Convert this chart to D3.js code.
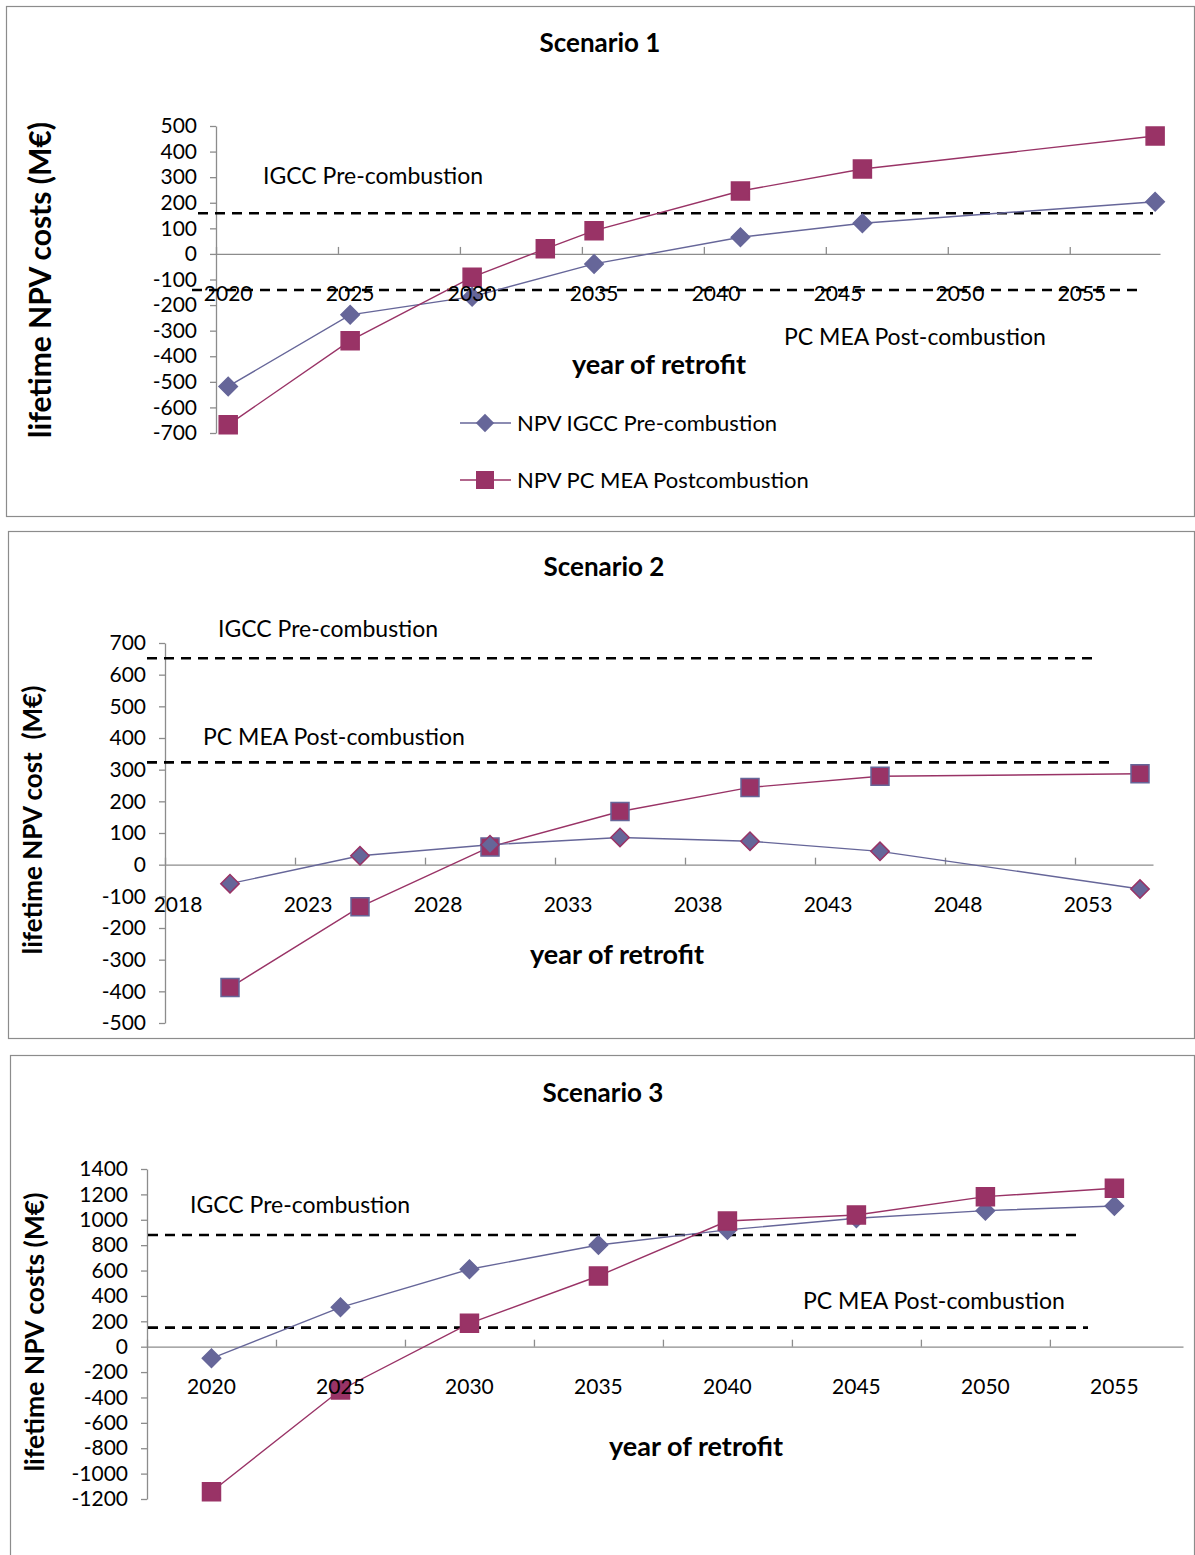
<!DOCTYPE html>
<html>
<head>
<meta charset="utf-8">
<script src="https://cdn.jsdelivr.net/npm/d3@7"></script>
<style>
  body { margin: 0; background: #fff; }
  text { font-family: Lato, "Open Sans", sans-serif; fill: #000; }
</style>
</head>
<body>
<script>
// Scenario 1
const s1IgccYears = [2020, 2025, 2030, 2035, 2041, 2046, 2058];
const s1IgccNpv = [-518, -238, -167, -39, 65, 120, 204];
const s1PcYears = [2020, 2025, 2030, 2033, 2035, 2041, 2046, 2058];
const s1PcNpv = [-668, -339, -91, 20, 91, 246, 332, 461];
const s1RefLines = [159, -141]; // IGCC, PC MEA
const s1YTicks = [500, 400, 300, 200, 100, 0, -100, -200, -300, -400, -500, -600, -700];
const s1XLabels = [2020, 2025, 2030, 2035, 2040, 2045, 2050, 2055];

// Scenario 2
const s2Years = [2020, 2025, 2030, 2035, 2040, 2045, 2055];
const s2IgccNpv = [-60, 28, 63, 86, 74, 42, -77];
const s2PcNpv = [-388, -133, 56, 168, 244, 279, 287];
const s2RefLines = [652, 323];
const s2YTicks = [700, 600, 500, 400, 300, 200, 100, 0, -100, -200, -300, -400, -500];
const s2XLabels = [2018, 2023, 2028, 2033, 2038, 2043, 2048, 2053];

// Scenario 3
const s3Years = [2020, 2025, 2030, 2035, 2040, 2045, 2050, 2055];
const s3IgccNpv = [-92, 310, 610, 801, 920, 1012, 1072, 1109];
const s3PcNpv = [-1143, -341, 184, 557, 990, 1038, 1182, 1248];
const s3RefLines = [880, 150];
const s3YTicks = [1400, 1200, 1000, 800, 600, 400, 200, 0, -200, -400, -600, -800, -1000, -1200];
const s3XLabels = [2020, 2025, 2030, 2035, 2040, 2045, 2050, 2055];

const IGCC_COLOR = "#666699";
const PC_COLOR = "#993366";
const REF_NAMES = ["IGCC Pre-combustion", "PC MEA Post-combustion"];

const svg = d3.select("body").append("svg").attr("width", 1195).attr("height", 1555);

const zip = (xs, ys) => xs.map((d, i) => [d, ys[i]]);

// layout of each panel
const PANELS = [
  {
    frame: [6, 6, 1194, 516],
    title: "Scenario 1", titleAt: [600, 52],
    yLabel: "lifetime NPV costs (M€)", yLabelAt: [40, 280], yLabelSize: 30,
    xDomain: [2019.5, 2058.2], xRange: [216, 1160], tickShift: -0.5,
    yTicks: s1YTicks, yRange: [433, 126], xLabels: s1XLabels,
    igcc: zip(s1IgccYears, s1IgccNpv), pc: zip(s1PcYears, s1PcNpv),
    refs: s1RefLines, refX: [[198, 1153], [192, 1138]],
    notesAt: [[263, 184], [784, 345]],
    xTitleAt: [659, 374],
    legend: true, outlined: false, igccOnTop: false,
  },
  {
    frame: [8, 531, 1194, 1038],
    title: "Scenario 2", titleAt: [604, 576],
    yLabel: "lifetime NPV cost  (M€)", yLabelAt: [33, 820], yLabelSize: 26,
    xDomain: [2017.5, 2055.5], xRange: [165, 1153], tickShift: -0.5,
    yTicks: s2YTicks, yRange: [1023, 643], xLabels: s2XLabels,
    igcc: zip(s2Years, s2IgccNpv), pc: zip(s2Years, s2PcNpv),
    refs: s2RefLines, refX: [[147, 1093], [147, 1110]],
    notesAt: [[218, 637], [203, 745]],
    xTitleAt: [617, 964],
    legend: false, outlined: true, igccOnTop: true,
  },
  {
    frame: [10, 1055, 1194, 1570],
    title: "Scenario 3", titleAt: [603, 1102],
    yLabel: "lifetime NPV costs (M€)", yLabelAt: [35, 1332], yLabelSize: 26.5,
    xDomain: [2017.5, 2057.66], xRange: [147, 1183], tickShift: -2.5,
    yTicks: s3YTicks, yRange: [1499, 1169], xLabels: s3XLabels,
    igcc: zip(s3Years, s3IgccNpv), pc: zip(s3Years, s3PcNpv),
    refs: s3RefLines, refX: [[148, 1083], [148, 1088]],
    notesAt: [[190, 1213], [803, 1309]],
    xTitleAt: [696, 1456],
    legend: false, outlined: false, igccOnTop: false,
  },
];

const squareSym = d3.symbol().type(d3.symbolSquare).size(324)();
const diamondSym = d3.symbol().type(d3.symbolSquare).size(169)();

function drawMarkers(g, pts, kind, x, y, stroke) {
  g.selectAll(null).data(pts).enter().append("path")
    .attr("d", kind === "square" ? squareSym : diamondSym)
    .attr("transform", (d) => `translate(${x(d[0])},${y(d[1])})` + (kind === "square" ? "" : " rotate(45)"))
    .attr("fill", kind === "square" ? PC_COLOR : IGCC_COLOR)
    .attr("stroke", stroke)
    .attr("stroke-width", 1.5);
}

function drawPanel(p) {
  const g = svg.append("g");
  const [fx1, fy1, fx2, fy2] = p.frame;
  g.append("rect").attr("x", fx1 + 0.5).attr("y", fy1 + 0.5)
    .attr("width", fx2 - fx1).attr("height", fy2 - fy1)
    .attr("fill", "none").attr("stroke", "#8c8c8c").attr("stroke-width", 1.2);

  const x = d3.scaleLinear().domain(p.xDomain).range(p.xRange);
  const y = d3.scaleLinear().domain(d3.extent(p.yTicks)).range(p.yRange);

  // title and axis titles
  g.append("text").attr("x", p.titleAt[0]).attr("y", p.titleAt[1])
    .attr("text-anchor", "middle").style("font-weight", "bold").style("font-size", "26px")
    .text(p.title);
  g.append("text")
    .attr("transform", `translate(${p.yLabelAt[0]},${p.yLabelAt[1]}) rotate(-90)`)
    .attr("text-anchor", "middle").attr("dy", "0.35em")
    .style("font-weight", "bold").style("font-size", p.yLabelSize + "px").style("white-space", "pre")
    .text(p.yLabel);
  g.append("text").attr("x", p.xTitleAt[0]).attr("y", p.xTitleAt[1])
    .attr("text-anchor", "middle").style("font-weight", "bold").style("font-size", "27px")
    .text("year of retrofit");

  // y axis
  const yAxis = g.append("g").attr("transform", `translate(${p.xRange[0]},0)`)
    .call(d3.axisLeft(y).tickValues(p.yTicks).tickSize(6).tickSizeOuter(0).tickPadding(13)
      .tickFormat((d) => String(d)));
  // x axis at zero, ticks pointing up
  const xAxis = g.append("g").attr("transform", `translate(0,${y(0)})`)
    .call(d3.axisTop(x).tickValues(p.xLabels.map((d) => d + p.tickShift)).tickSize(7)
      .tickSizeOuter(0).tickFormat(""));
  [yAxis, xAxis].forEach((a) => {
    a.selectAll("path, line").attr("stroke", "#8c8c8c").attr("stroke-width", 1.3);
    a.selectAll("text").style("font-size", "21px").style("font-family", "Lato, sans-serif").attr("fill", "#000");
  });

  // reference (dashed) levels
  g.selectAll(null).data(p.refs).enter().append("line")
    .attr("x1", (d, i) => p.refX[i][0]).attr("x2", (d, i) => p.refX[i][1])
    .attr("y1", (d) => y(d)).attr("y2", (d) => y(d))
    .attr("stroke", "#000").attr("stroke-width", 2.6).attr("stroke-dasharray", "10,7");

  g.selectAll(null).data(REF_NAMES).enter().append("text")
    .attr("x", (d, i) => p.notesAt[i][0]).attr("y", (d, i) => p.notesAt[i][1])
    .style("font-size", "23px").text((d) => d);

  // series
  const line = d3.line().x((d) => x(d[0])).y((d) => y(d[1]));
  const drawIgcc = () => {
    g.append("path").datum(p.igcc).attr("d", line).attr("fill", "none")
      .attr("stroke", IGCC_COLOR).attr("stroke-width", 1.4);
    drawMarkers(g, p.igcc, "diamond", x, y, p.outlined ? PC_COLOR : IGCC_COLOR);
  };
  const drawPc = () => {
    g.append("path").datum(p.pc).attr("d", line).attr("fill", "none")
      .attr("stroke", PC_COLOR).attr("stroke-width", 1.4);
    drawMarkers(g, p.pc, "square", x, y, p.outlined ? IGCC_COLOR : PC_COLOR);
  };
  if (p.igccOnTop) { drawPc(); drawIgcc(); } else { drawIgcc(); drawPc(); }

  // x tick labels on top of everything
  g.selectAll(null).data(p.xLabels).enter().append("text")
    .attr("x", (d) => x(d)).attr("y", y(0) + 47)
    .attr("text-anchor", "middle").style("font-size", "21px")
    .text((d) => d);

  if (p.legend) {
    const items = [
      { name: "NPV IGCC Pre-combustion", kind: "diamond", color: IGCC_COLOR, y: 423 },
      { name: "NPV PC MEA Postcombustion", kind: "square", color: PC_COLOR, y: 480 },
    ];
    const lg = g.append("g");
    items.forEach((it) => {
      lg.append("line").attr("x1", 460).attr("x2", 511).attr("y1", it.y).attr("y2", it.y)
        .attr("stroke", it.color).attr("stroke-width", 1.4);
      lg.append("path").attr("d", it.kind === "square" ? squareSym : diamondSym)
        .attr("transform", `translate(485,${it.y})` + (it.kind === "square" ? "" : " rotate(45)"))
        .attr("fill", it.color);
      lg.append("text").attr("x", 517).attr("y", it.y).attr("dy", "0.36em")
        .style("font-size", "22px").text(it.name);
    });
  }
}

PANELS.forEach(drawPanel);
</script>
</body>
</html>
